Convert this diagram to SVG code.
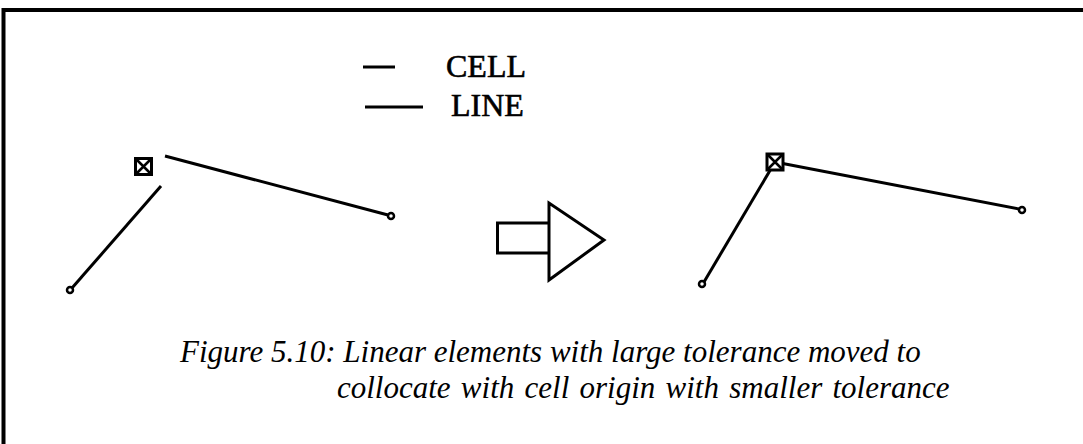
<svg xmlns="http://www.w3.org/2000/svg" width="1083" height="444" viewBox="0 0 1083 444">
<style>
.ln{stroke:#000;stroke-width:3;fill:none;stroke-linecap:butt}
.end{stroke:#000;stroke-width:2.5;fill:#fff}
.cell{stroke:#000;stroke-width:3;fill:#fff}
.lbl{font-family:"Liberation Serif",serif;font-size:32px;fill:#000;stroke:#000;stroke-width:0.6}
.cap{font-family:"Liberation Serif",serif;font-size:31px;font-style:italic;fill:#000}
</style>
<rect x="0" y="0" width="1083" height="444" fill="#fff"/>
<path d="M3.5,444 V10 H1083" stroke="#000" stroke-width="4" fill="none"/>
<g id="legend">
<line class="ln" x1="363" y1="67" x2="395" y2="67"/>
<line class="ln" x1="365" y1="107" x2="423" y2="107"/>
<text class="lbl" x="446" y="77">CELL</text>
<text class="lbl" x="451" y="116">LINE</text>
</g>
<g id="connectors">
<line class="ln" x1="165" y1="156" x2="388" y2="215"/>
<line class="ln" x1="161" y1="186" x2="72" y2="288"/>
<line class="ln" x1="775" y1="162" x2="1019" y2="209"/>
<line class="ln" x1="775" y1="162" x2="704" y2="282"/>
</g>
<g id="left-cell">
<rect class="cell" x="135.5" y="158.5" width="16" height="16"/>
<path d="M135.5,158.5 L151.5,174.5 M151.5,158.5 L135.5,174.5" stroke="#000" stroke-width="2.5"/>
</g>
<g id="left-ends">
<circle class="end" cx="391" cy="216" r="3"/>
<circle class="end" cx="70" cy="290" r="3"/>
</g>
<g id="arrow">
<path d="M549,223 H497.5 V253 H549" stroke="#000" stroke-width="3" fill="#fff"/>
<path d="M549,203 V280 L604,240 Z" stroke="#000" stroke-width="3" fill="#fff" stroke-linejoin="miter"/>
</g>
<g id="right-cell">
<rect class="cell" x="767" y="154" width="16" height="16"/>
<path d="M767,154 L783,170 M783,154 L767,170" stroke="#000" stroke-width="2.5"/>
</g>
<g id="right-ends">
<circle class="end" cx="1022" cy="210" r="3"/>
<circle class="end" cx="702" cy="284" r="3"/>
</g>
<g id="caption">
<text class="cap" x="180" y="362">Figure 5.10: Linear elements with large tolerance moved to</text>
<text class="cap" x="337" y="398" word-spacing="2.5">collocate with cell origin with smaller tolerance</text>
</g>
</svg>
